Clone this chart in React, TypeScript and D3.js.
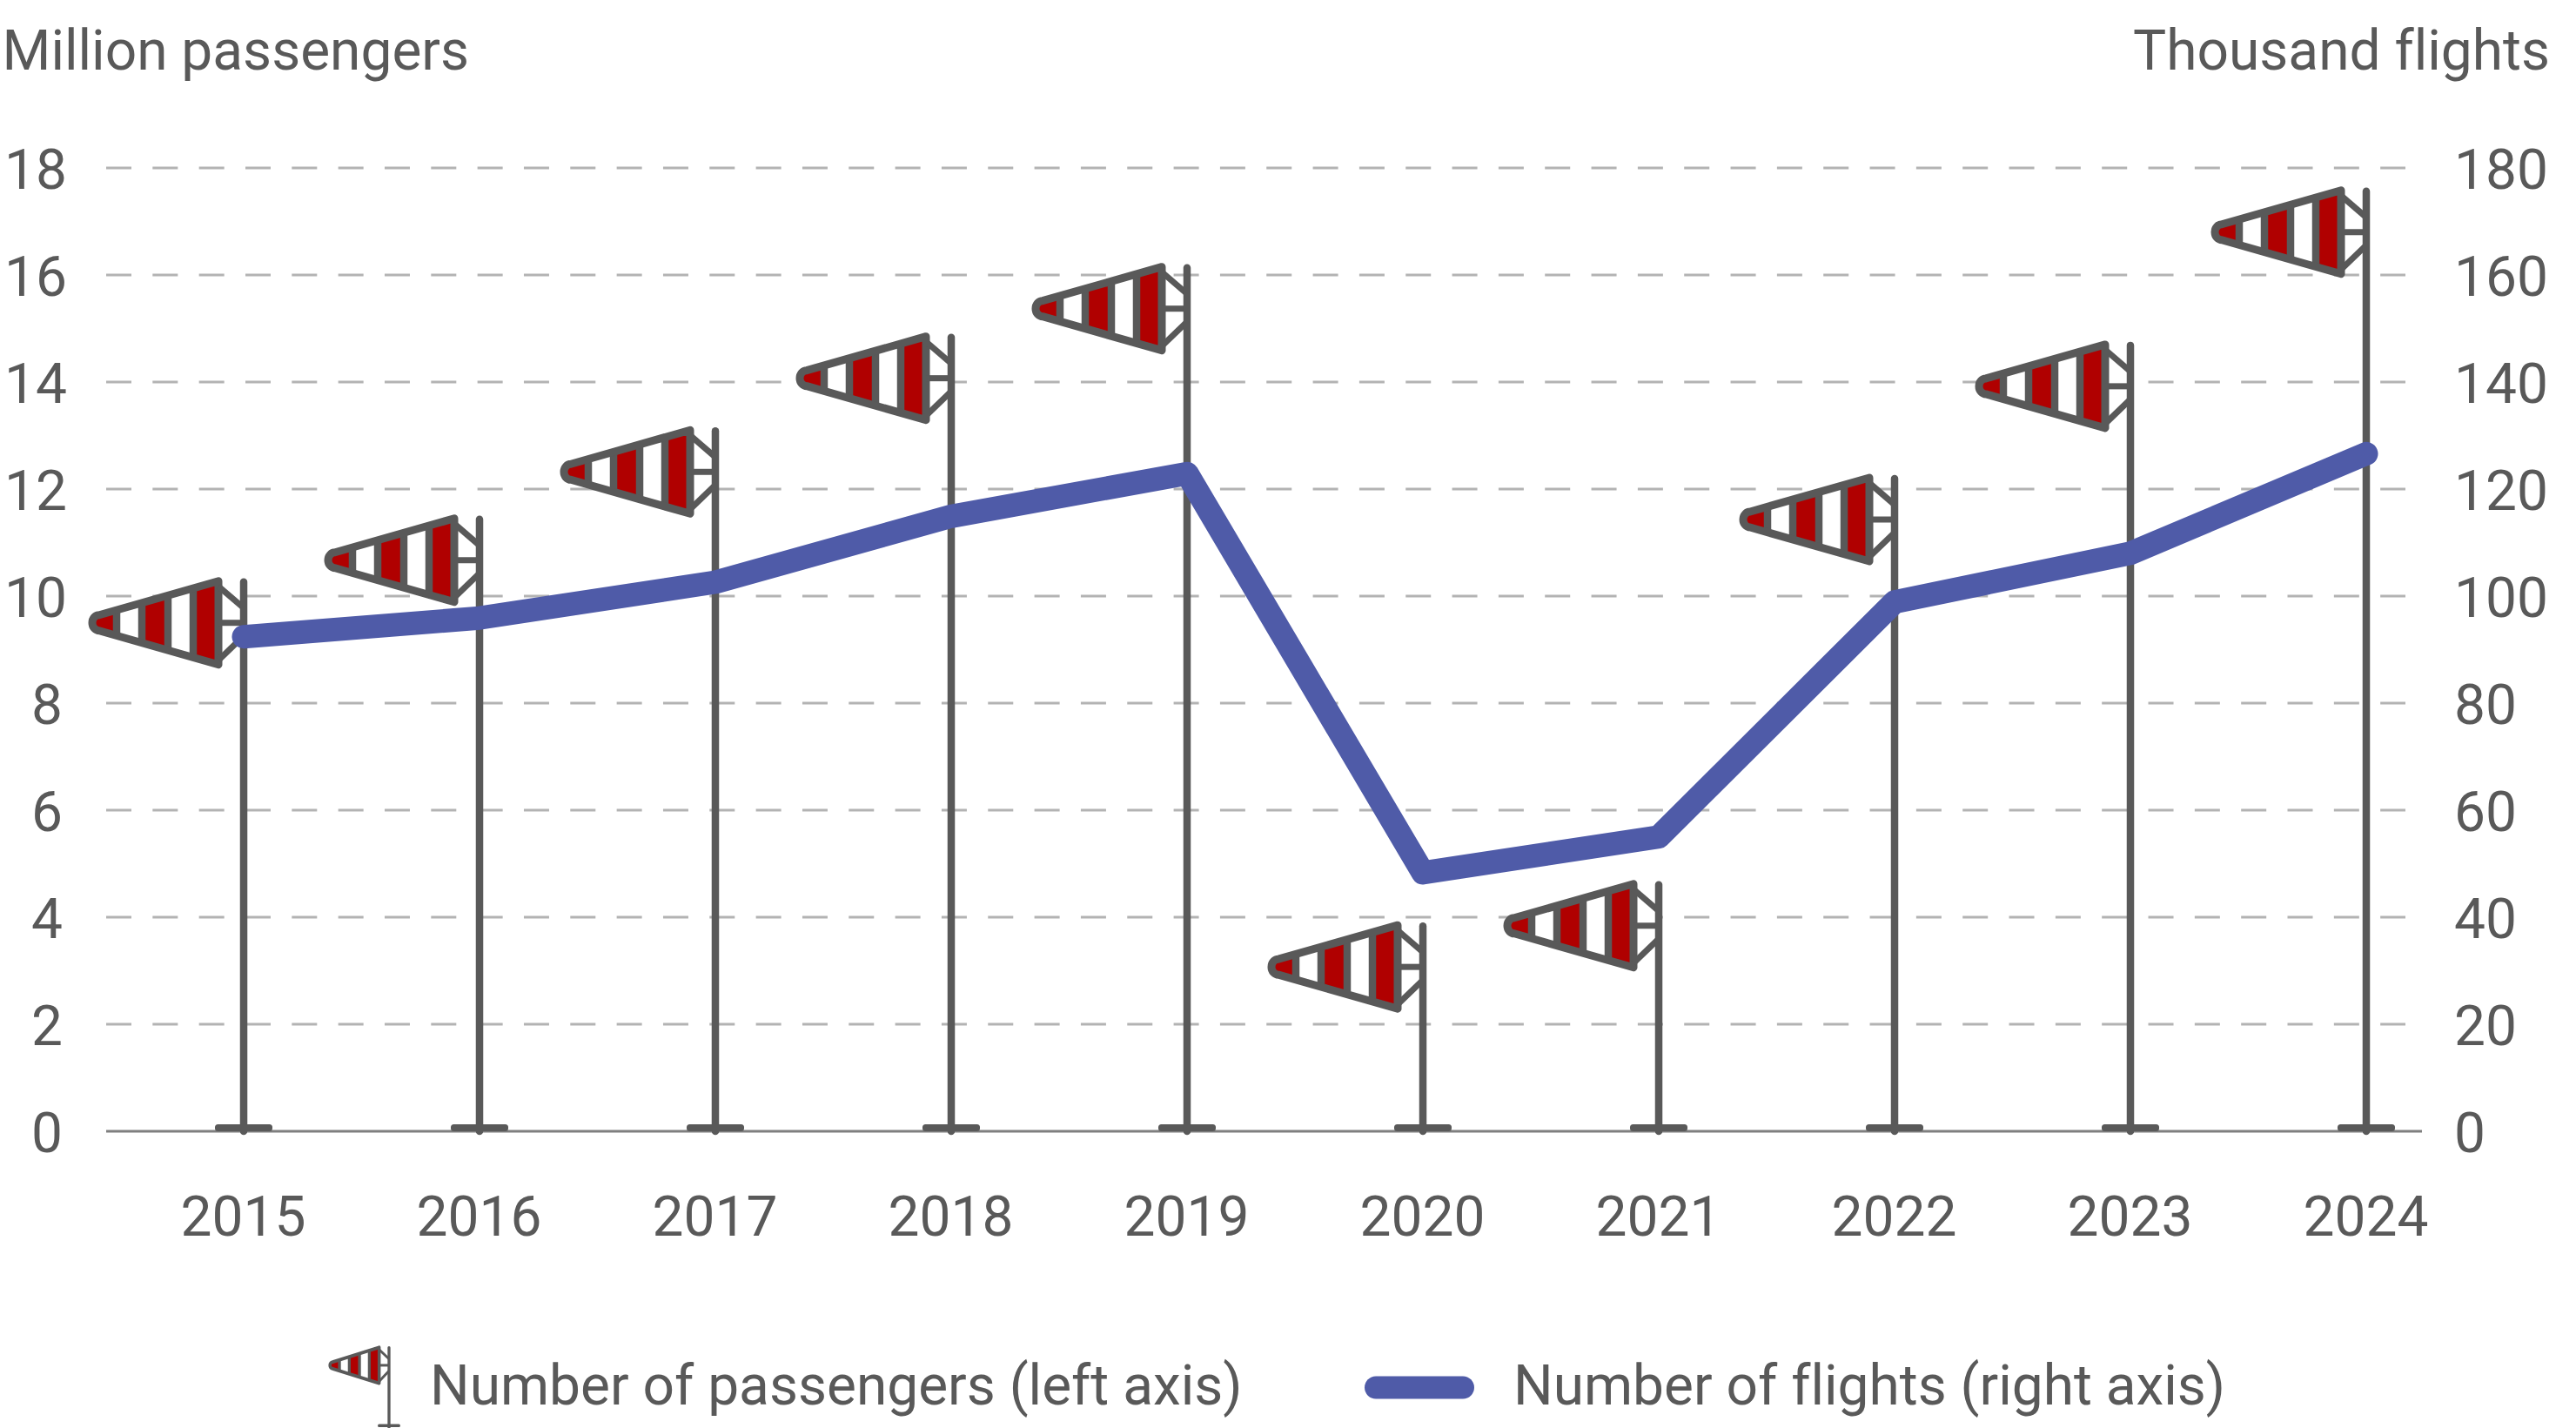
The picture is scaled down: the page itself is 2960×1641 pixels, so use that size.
import React, { useEffect, useRef } from 'react';
import * as d3 from 'd3';

const years = ['2015', '2016', '2017', '2018', '2019', '2020', '2021', '2022', '2023', '2024'];
const passengers = [10.33, 11.5, 13.15, 14.9, 16.2, 3.9, 4.67, 12.26, 14.75, 17.63]; // million, left axis
const flights = [92.4, 95.9, 102.6, 114.9, 122.9, 48.3, 55, 98.9, 108, 126.6]; // thousand, right axis
const leftTicks = [0, 2, 4, 6, 8, 10, 12, 14, 16, 18];
const rightTicks = [0, 20, 40, 60, 80, 100, 120, 140, 160, 180];

const width = 2960;
const height = 1641;
const textColor = '#595959';
const lineColor = '#4f5ba8';
const poleColor = '#595959';
const red = '#b00000';
const fontSize = 64;

// windsock drawn relative to the top of its pole
const sockOutline = 'M-29,3 L-166,42 A8,9 0 0 0 -166,60 L-29,99 Z';
const redBands = [[-180, -146], [-117, -87], [-58, -29]];
const stripes = [-146, -117, -87, -58];

function drawSock(g: d3.Selection<SVGGElement, unknown, null, undefined>, baseY: number) {
  g.append('path').attr('d', 'M-29,9 L0,34 L0,66 L-29,94 Z').attr('fill', '#fff');
  g.append('path').attr('d', sockOutline).attr('fill', '#fff');
  redBands.forEach(([a, b]) => {
    g.append('rect')
      .attr('x', a)
      .attr('y', 0)
      .attr('width', b - a)
      .attr('height', 102)
      .attr('fill', red)
      .attr('clip-path', 'url(#sock-clip)');
  });
  stripes.forEach(s => {
    const t = (s + 29) / -137;
    const top = 3 + 39 * t;
    const bot = 99 - 39 * t;
    g.append('line')
      .attr('x1', s).attr('x2', s)
      .attr('y1', top).attr('y2', bot)
      .attr('stroke', poleColor)
      .attr('stroke-width', 8.5);
  });
  g.append('path')
    .attr('d', sockOutline)
    .attr('fill', 'none')
    .attr('stroke', poleColor)
    .attr('stroke-width', 9)
    .attr('stroke-linejoin', 'round');
  // ropes to the pole
  [[9, 34], [51, 51], [94, 66]].forEach(([y1, y2]) => {
    g.append('line')
      .attr('x1', -29).attr('x2', 0)
      .attr('y1', y1).attr('y2', y2)
      .attr('stroke', poleColor)
      .attr('stroke-width', 7);
  });
  // pole
  g.append('line')
    .attr('x1', 0).attr('x2', 0)
    .attr('y1', 4).attr('y2', baseY)
    .attr('stroke', poleColor)
    .attr('stroke-width', 8.5)
    .attr('stroke-linecap', 'round');
  // foot
  g.append('rect')
    .attr('x', -33)
    .attr('y', baseY - 8)
    .attr('width', 66)
    .attr('height', 8)
    .attr('rx', 3.5)
    .attr('fill', poleColor);
}

export default function App() {
  const ref = useRef<SVGSVGElement | null>(null);

  useEffect(() => {
    if (!ref.current) return;
    const svg = d3.select(ref.current);
    svg.selectAll('*').remove();

    const x = d3.scalePoint<string>().domain(years).range([280, 2719]);
    const yL = d3.scaleLinear().domain([0, 18]).range([1300, 193]);
    const yR = d3.scaleLinear().domain([0, 180]).range([1300, 193]);

    svg.append('defs')
      .append('clipPath')
      .attr('id', 'sock-clip')
      .append('path')
      .attr('d', sockOutline);

    // gridlines
    svg.append('g')
      .selectAll('line')
      .data(leftTicks.filter(d => d > 0))
      .join('line')
      .attr('x1', 122)
      .attr('x2', 2764)
      .attr('y1', d => yL(d))
      .attr('y2', d => yL(d))
      .attr('stroke', '#b3b3b3')
      .attr('stroke-width', 3)
      .attr('stroke-dasharray', '29,24.33');

    // baseline
    svg.append('line')
      .attr('x1', 122).attr('x2', 2783)
      .attr('y1', 1300).attr('y2', 1300)
      .attr('stroke', '#7f7f7f')
      .attr('stroke-width', 3);

    const styleAxis = (g: d3.Selection<SVGGElement, unknown, null, undefined>) => {
      g.select('.domain').remove();
      g.selectAll('.tick line').remove();
      g.attr('font-family', 'Roboto').attr('font-size', fontSize);
      g.selectAll('text').attr('fill', textColor);
    };

    const leftAxis = svg.append('g')
      .attr('transform', 'translate(72,0)')
      .call(d3.axisLeft(yL).tickValues(leftTicks).tickSize(0).tickPadding(0));
    styleAxis(leftAxis);
    leftAxis.selectAll<SVGTextElement, number>('text')
      .attr('dy', '0.37em')
      .attr('x', d => (d >= 10 ? 5 : 0));

    const rightAxis = svg.append('g')
      .attr('transform', 'translate(2820,0)')
      .call(d3.axisRight(yR).tickValues(rightTicks).tickSize(0).tickPadding(0));
    styleAxis(rightAxis);
    rightAxis.selectAll('text').attr('dy', '0.37em');

    const bottomAxis = svg.append('g')
      .attr('transform', 'translate(-1,1420)')
      .call(d3.axisBottom(x).tickSize(0).tickPadding(0));
    styleAxis(bottomAxis);
    bottomAxis.selectAll('text').attr('y', 0).attr('dy', 0);

    // axis titles
    const title = (tx: number, ty: number, anchor: string, label: string) =>
      svg.append('text')
        .attr('x', tx)
        .attr('y', ty)
        .attr('text-anchor', anchor)
        .attr('font-family', 'Roboto')
        .attr('font-size', fontSize)
        .attr('fill', textColor)
        .style('font-variant-ligatures', 'none')
        .text(label);
    title(2.5, 80, 'start', 'Million passengers');
    title(2930, 80, 'end', 'Thousand flights');

    // windsocks
    years.forEach((yr, i) => {
      const top = yL(passengers[i]);
      const g = svg.append('g').attr('transform', `translate(${x(yr)},${top})`);
      drawSock(g, 1300 - top);
    });

    // flights line on top
    const line = d3.line<number>()
      .x((_, i) => x(years[i])!)
      .y(d => yR(d));
    svg.append('path')
      .attr('d', line(flights)!)
      .attr('fill', 'none')
      .attr('stroke', lineColor)
      .attr('stroke-width', 27)
      .attr('stroke-linejoin', 'round')
      .attr('stroke-linecap', 'round');

    // legend
    const sockKey = svg.append('g').attr('transform', 'translate(447,1547) scale(0.39,0.43)');
    drawSock(sockKey, 216);
    title(494, 1614, 'start', 'Number of passengers (left axis)');
    svg.append('line')
      .attr('x1', 1581).attr('x2', 1681)
      .attr('y1', 1594.5).attr('y2', 1594.5)
      .attr('stroke', lineColor)
      .attr('stroke-width', 26)
      .attr('stroke-linecap', 'round');
    title(1739, 1614, 'start', 'Number of flights (right axis)');
  }, []);

  return (
    <svg
      ref={ref}
      width={width}
      height={height}
      viewBox={`0 0 ${width} ${height}`}
      style={{ position: 'absolute', left: 0, top: 0, background: '#fff' }}
    />
  );
}
